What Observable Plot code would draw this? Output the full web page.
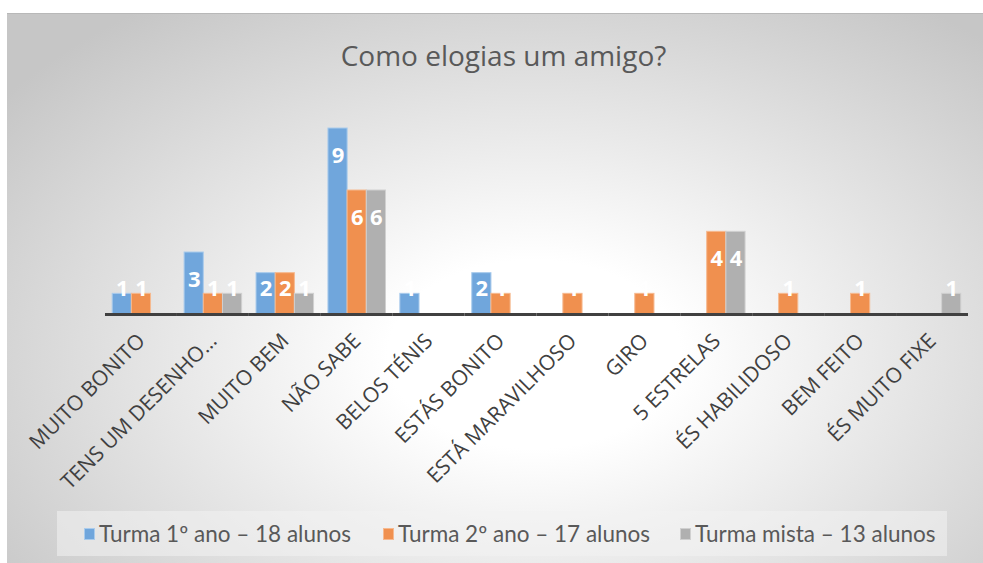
<!DOCTYPE html>
<html>
<head>
<meta charset="utf-8">
<script src="https://cdn.jsdelivr.net/npm/d3@7"></script>
<script src="https://cdn.jsdelivr.net/npm/@observablehq/plot@0.6"></script>
<style>
  html, body { margin: 0; padding: 0; background: #ffffff; width: 983px; height: 563px; overflow: hidden; }
  #frame { position: absolute; left: 7px; top: 13px; width: 976px; height: 550px;
    background: radial-gradient(ellipse 68% 78% at 54% 62%, #ffffff 22%, #c6c6c6 100%);
    border-top: 1px solid #b8b8b8; box-sizing: border-box; }
  #title { position: absolute; left: 0; width: 1007px; top: 36px; text-align: center;
    font-family: "Open Sans", sans-serif; font-size: 28px; color: #595959; white-space: nowrap; }
  #chart { position: absolute; left: 0; top: 0; }
  #legend { position: absolute; left: 57px; top: 511px; width: 890px; height: 45px;
    background: rgba(242,242,242,0.55); }
  .item { position: absolute; top: 0; height: 45px; display: flex; align-items: center;
    font-family: "Lato", sans-serif; font-size: 22.5px; color: #595959; white-space: nowrap; }
  .sw { width: 11px; height: 12px; margin-right: 4px; box-sizing: border-box; }
</style>
</head>
<body>
<div id="frame"></div>
<div id="title">Como elogias um amigo?</div>
<div id="chart"></div>
<div id="legend"></div>
<script>
const categories = ["MUITO BONITO", "TENS UM DESENHO…", "MUITO BEM", "NÃO SABE", "BELOS TÉNIS", "ESTÁS BONITO", "ESTÁ MARAVILHOSO", "GIRO", "5 ESTRELAS", "ÉS HABILIDOSO", "BEM FEITO", "ÉS MUITO FIXE"];
const series = ["Turma 1º ano – 18 alunos", "Turma 2º ano – 17 alunos", "Turma mista – 13 alunos"];
const turma1 = [1, 3, 2, 9, 1, 2, 0, 0, 0, 0, 0, 0];
const turma2 = [1, 1, 2, 6, 0, 1, 1, 1, 4, 1, 1, 0];
const mista  = [0, 1, 1, 6, 0, 0, 0, 0, 4, 0, 0, 1];
const colors = ["#70a6dc", "#f0904f", "#b0b0b0"];
const borders = ["#a9cbec", "#f6b98f", "#d0d0d0"];
const legendX = [27, 326, 623];

const valuesBySeries = [turma1, turma2, mista];
const rows = [];
categories.forEach((c, i) => {
  series.forEach((s, j) => rows.push({cat: c, serie: s, v: valuesBySeries[j][i]}));
});
const bars = rows.filter(d => d.v > 0);

const chart = Plot.plot({
  width: 983,
  height: 500,
  marginLeft: 105,
  marginRight: 15,
  marginTop: 128,
  marginBottom: 186,
  style: {background: "transparent", overflow: "visible", fontFamily: "Open Sans, sans-serif", fontSize: "21px", color: "#404040"},
  fx: {domain: categories, paddingInner: 0.2, paddingOuter: 0.1, round: false, label: null},
  x: {domain: series, axis: null, padding: 0, round: false},
  y: {domain: [0, 9], axis: null},
  color: {domain: series, range: colors},
  marks: [
    Plot.barY(bars, {fx: "cat", x: "serie", y: "v", fill: "serie", stroke: d => borders[series.indexOf(d.serie)], strokeWidth: 1}),
    Plot.ruleY([0], {stroke: "#404040", strokeWidth: 3, insetLeft: -7.2, insetRight: -7.2}),
    Plot.text(bars.filter(d => d.v >= 3), {fx: "cat", x: "serie", y: "v", text: "v", dy: 27, fill: "white", fontWeight: "bold", fontSize: 22}),
    Plot.text(bars.filter(d => d.v < 3), {fx: "cat", x: "serie", y: d => 0, text: "v", dy: -26, fill: "white", fontWeight: "bold", fontSize: 22}),
    Plot.axisFx({anchor: "bottom", tickRotate: -45, tickSize: 0, tickPadding: 23, dx: 0, fontSize: 21, fill: "#404040", label: null})
  ]
});
document.getElementById("chart").appendChild(chart);

const legend = document.getElementById("legend");
series.forEach((s, j) => {
  const it = document.createElement("div");
  it.className = "item";
  it.style.left = legendX[j] + "px";
  it.innerHTML = `<div class="sw" style="background:${colors[j]};border:1px solid ${borders[j]}"></div><span>${s}</span>`;
  legend.appendChild(it);
});
</script>
</body>
</html>
